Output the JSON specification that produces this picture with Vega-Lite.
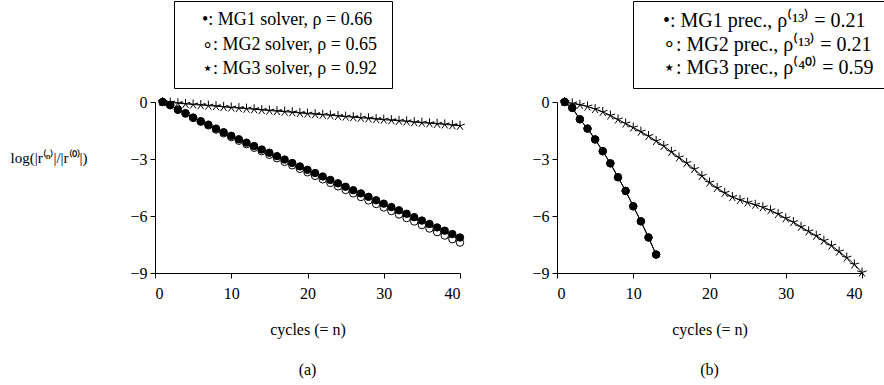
{
  "$schema": "https://vega.github.io/schema/vega-lite/v6.json",
  "padding": {"left": 10, "top": 0, "right": 0, "bottom": 2},
  "background": "white",
  "spacing": 64,
  "config": {
    "view": {"stroke": null},
    "font": "Liberation Serif",
    "axis": {
      "grid": false,
      "domainColor": "black",
      "tickColor": "black",
      "labelColor": "black",
      "titleColor": "black",
      "labelFont": "Liberation Serif",
      "titleFont": "Liberation Serif",
      "labelFontSize": 16,
      "titleFontSize": 16,
      "titleFontWeight": "normal",
      "domainWidth": 1,
      "tickWidth": 1
    },
    "legend": {
      "labelFont": "Liberation Serif",
      "labelFontSize": 18,
      "labelColor": "black",
      "strokeColor": "black",
      "fillColor": "white",
      "padding": 10,
      "rowPadding": 6.5,
      "symbolSize": 0,
      "symbolOpacity": 0,
      "symbolStrokeWidth": 0,
      "labelOffset": 0,
      "cornerRadius": 0,
      "labelLimit": 400
    },
    "title": {"font": "Liberation Serif", "fontSize": 16, "fontWeight": "normal", "color": "black"}
  },
  "datasets": {
    "left": [
      {"n": 1, "v": 0, "s": "MG2"}, {"n": 2, "v": -0.17, "s": "MG2"}, {"n": 3, "v": -0.41, "s": "MG2"}, {"n": 4, "v": -0.61, "s": "MG2"}, {"n": 5, "v": -0.84, "s": "MG2"},
      {"n": 6, "v": -1.04, "s": "MG2"}, {"n": 7, "v": -1.23, "s": "MG2"}, {"n": 8, "v": -1.45, "s": "MG2"}, {"n": 9, "v": -1.65, "s": "MG2"}, {"n": 10, "v": -1.85, "s": "MG2"},
      {"n": 11, "v": -2.04, "s": "MG2"}, {"n": 12, "v": -2.22, "s": "MG2"}, {"n": 13, "v": -2.41, "s": "MG2"}, {"n": 14, "v": -2.59, "s": "MG2"}, {"n": 15, "v": -2.78, "s": "MG2"},
      {"n": 16, "v": -2.96, "s": "MG2"}, {"n": 17, "v": -3.15, "s": "MG2"}, {"n": 18, "v": -3.33, "s": "MG2"}, {"n": 19, "v": -3.52, "s": "MG2"}, {"n": 20, "v": -3.70, "s": "MG2"},
      {"n": 21, "v": -3.89, "s": "MG2"}, {"n": 22, "v": -4.07, "s": "MG2"}, {"n": 23, "v": -4.26, "s": "MG2"}, {"n": 24, "v": -4.44, "s": "MG2"}, {"n": 25, "v": -4.63, "s": "MG2"},
      {"n": 26, "v": -4.81, "s": "MG2"}, {"n": 27, "v": -5.00, "s": "MG2"}, {"n": 28, "v": -5.18, "s": "MG2"}, {"n": 29, "v": -5.37, "s": "MG2"}, {"n": 30, "v": -5.55, "s": "MG2"},
      {"n": 31, "v": -5.74, "s": "MG2"}, {"n": 32, "v": -5.92, "s": "MG2"}, {"n": 33, "v": -6.11, "s": "MG2"}, {"n": 34, "v": -6.29, "s": "MG2"}, {"n": 35, "v": -6.48, "s": "MG2"},
      {"n": 36, "v": -6.66, "s": "MG2"}, {"n": 37, "v": -6.85, "s": "MG2"}, {"n": 38, "v": -7.03, "s": "MG2"}, {"n": 39, "v": -7.22, "s": "MG2"}, {"n": 40, "v": -7.40, "s": "MG2"},
      {"n": 1, "v": 0, "s": "MG1"}, {"n": 2, "v": -0.16, "s": "MG1"}, {"n": 3, "v": -0.40, "s": "MG1"}, {"n": 4, "v": -0.59, "s": "MG1"}, {"n": 5, "v": -0.82, "s": "MG1"},
      {"n": 6, "v": -1.01, "s": "MG1"}, {"n": 7, "v": -1.19, "s": "MG1"}, {"n": 8, "v": -1.40, "s": "MG1"}, {"n": 9, "v": -1.59, "s": "MG1"}, {"n": 10, "v": -1.78, "s": "MG1"},
      {"n": 11, "v": -1.96, "s": "MG1"}, {"n": 12, "v": -2.14, "s": "MG1"}, {"n": 13, "v": -2.32, "s": "MG1"}, {"n": 14, "v": -2.50, "s": "MG1"}, {"n": 15, "v": -2.67, "s": "MG1"},
      {"n": 16, "v": -2.85, "s": "MG1"}, {"n": 17, "v": -3.03, "s": "MG1"}, {"n": 18, "v": -3.21, "s": "MG1"}, {"n": 19, "v": -3.39, "s": "MG1"}, {"n": 20, "v": -3.57, "s": "MG1"},
      {"n": 21, "v": -3.74, "s": "MG1"}, {"n": 22, "v": -3.92, "s": "MG1"}, {"n": 23, "v": -4.10, "s": "MG1"}, {"n": 24, "v": -4.28, "s": "MG1"}, {"n": 25, "v": -4.46, "s": "MG1"},
      {"n": 26, "v": -4.64, "s": "MG1"}, {"n": 27, "v": -4.81, "s": "MG1"}, {"n": 28, "v": -4.99, "s": "MG1"}, {"n": 29, "v": -5.17, "s": "MG1"}, {"n": 30, "v": -5.35, "s": "MG1"},
      {"n": 31, "v": -5.53, "s": "MG1"}, {"n": 32, "v": -5.70, "s": "MG1"}, {"n": 33, "v": -5.88, "s": "MG1"}, {"n": 34, "v": -6.06, "s": "MG1"}, {"n": 35, "v": -6.24, "s": "MG1"},
      {"n": 36, "v": -6.42, "s": "MG1"}, {"n": 37, "v": -6.60, "s": "MG1"}, {"n": 38, "v": -6.77, "s": "MG1"}, {"n": 39, "v": -6.95, "s": "MG1"}, {"n": 40, "v": -7.13, "s": "MG1"},
      {"n": 1, "v": 0, "s": "MG3"}, {"n": 2, "v": -0.03, "s": "MG3"}, {"n": 3, "v": -0.06, "s": "MG3"}, {"n": 4, "v": -0.10, "s": "MG3"}, {"n": 5, "v": -0.13, "s": "MG3"},
      {"n": 6, "v": -0.16, "s": "MG3"}, {"n": 7, "v": -0.19, "s": "MG3"}, {"n": 8, "v": -0.22, "s": "MG3"}, {"n": 9, "v": -0.26, "s": "MG3"}, {"n": 10, "v": -0.29, "s": "MG3"},
      {"n": 11, "v": -0.32, "s": "MG3"}, {"n": 12, "v": -0.35, "s": "MG3"}, {"n": 13, "v": -0.38, "s": "MG3"}, {"n": 14, "v": -0.42, "s": "MG3"}, {"n": 15, "v": -0.45, "s": "MG3"},
      {"n": 16, "v": -0.48, "s": "MG3"}, {"n": 17, "v": -0.51, "s": "MG3"}, {"n": 18, "v": -0.54, "s": "MG3"}, {"n": 19, "v": -0.58, "s": "MG3"}, {"n": 20, "v": -0.61, "s": "MG3"},
      {"n": 21, "v": -0.64, "s": "MG3"}, {"n": 22, "v": -0.67, "s": "MG3"}, {"n": 23, "v": -0.70, "s": "MG3"}, {"n": 24, "v": -0.74, "s": "MG3"}, {"n": 25, "v": -0.77, "s": "MG3"},
      {"n": 26, "v": -0.80, "s": "MG3"}, {"n": 27, "v": -0.83, "s": "MG3"}, {"n": 28, "v": -0.86, "s": "MG3"}, {"n": 29, "v": -0.90, "s": "MG3"}, {"n": 30, "v": -0.93, "s": "MG3"},
      {"n": 31, "v": -0.96, "s": "MG3"}, {"n": 32, "v": -0.99, "s": "MG3"}, {"n": 33, "v": -1.02, "s": "MG3"}, {"n": 34, "v": -1.06, "s": "MG3"}, {"n": 35, "v": -1.09, "s": "MG3"},
      {"n": 36, "v": -1.12, "s": "MG3"}, {"n": 37, "v": -1.15, "s": "MG3"}, {"n": 38, "v": -1.18, "s": "MG3"}, {"n": 39, "v": -1.22, "s": "MG3"}, {"n": 40, "v": -1.25, "s": "MG3"}
    ],
    "right": [
      {"n": 1, "v": 0, "s": "MG2"}, {"n": 2, "v": -0.31, "s": "MG2"}, {"n": 3, "v": -0.91, "s": "MG2"}, {"n": 4, "v": -1.40, "s": "MG2"}, {"n": 5, "v": -1.97, "s": "MG2"},
      {"n": 6, "v": -2.59, "s": "MG2"}, {"n": 7, "v": -3.23, "s": "MG2"}, {"n": 8, "v": -3.96, "s": "MG2"}, {"n": 9, "v": -4.68, "s": "MG2"}, {"n": 10, "v": -5.49, "s": "MG2"},
      {"n": 11, "v": -6.28, "s": "MG2"}, {"n": 12, "v": -7.13, "s": "MG2"}, {"n": 13, "v": -8.03, "s": "MG2"},
      {"n": 1, "v": 0, "s": "MG1"}, {"n": 2, "v": -0.31, "s": "MG1"}, {"n": 3, "v": -0.91, "s": "MG1"}, {"n": 4, "v": -1.40, "s": "MG1"}, {"n": 5, "v": -1.97, "s": "MG1"},
      {"n": 6, "v": -2.59, "s": "MG1"}, {"n": 7, "v": -3.23, "s": "MG1"}, {"n": 8, "v": -3.96, "s": "MG1"}, {"n": 9, "v": -4.68, "s": "MG1"}, {"n": 10, "v": -5.49, "s": "MG1"},
      {"n": 11, "v": -6.28, "s": "MG1"}, {"n": 12, "v": -7.13, "s": "MG1"}, {"n": 13, "v": -8.03, "s": "MG1"},
      {"n": 1, "v": 0, "s": "MG3"}, {"n": 2, "v": -0.08, "s": "MG3"}, {"n": 3, "v": -0.15, "s": "MG3"}, {"n": 4, "v": -0.24, "s": "MG3"}, {"n": 5, "v": -0.37, "s": "MG3"},
      {"n": 6, "v": -0.52, "s": "MG3"}, {"n": 7, "v": -0.71, "s": "MG3"}, {"n": 8, "v": -0.92, "s": "MG3"}, {"n": 9, "v": -1.13, "s": "MG3"}, {"n": 10, "v": -1.34, "s": "MG3"},
      {"n": 11, "v": -1.56, "s": "MG3"}, {"n": 12, "v": -1.79, "s": "MG3"}, {"n": 13, "v": -2.05, "s": "MG3"}, {"n": 14, "v": -2.31, "s": "MG3"}, {"n": 15, "v": -2.62, "s": "MG3"},
      {"n": 16, "v": -2.92, "s": "MG3"}, {"n": 17, "v": -3.21, "s": "MG3"}, {"n": 18, "v": -3.53, "s": "MG3"}, {"n": 19, "v": -3.89, "s": "MG3"}, {"n": 20, "v": -4.24, "s": "MG3"},
      {"n": 21, "v": -4.52, "s": "MG3"}, {"n": 22, "v": -4.78, "s": "MG3"}, {"n": 23, "v": -5.00, "s": "MG3"}, {"n": 24, "v": -5.15, "s": "MG3"}, {"n": 25, "v": -5.29, "s": "MG3"},
      {"n": 26, "v": -5.41, "s": "MG3"}, {"n": 27, "v": -5.54, "s": "MG3"}, {"n": 28, "v": -5.70, "s": "MG3"}, {"n": 29, "v": -5.89, "s": "MG3"}, {"n": 30, "v": -6.12, "s": "MG3"},
      {"n": 31, "v": -6.32, "s": "MG3"}, {"n": 32, "v": -6.57, "s": "MG3"}, {"n": 33, "v": -6.81, "s": "MG3"}, {"n": 34, "v": -7.04, "s": "MG3"}, {"n": 35, "v": -7.30, "s": "MG3"},
      {"n": 36, "v": -7.56, "s": "MG3"}, {"n": 37, "v": -7.87, "s": "MG3"}, {"n": 38, "v": -8.19, "s": "MG3"}, {"n": 39, "v": -8.55, "s": "MG3"}, {"n": 40, "v": -8.97, "s": "MG3"}
    ]
  },
  "hconcat": [
    {
      "width": 305,
      "height": 171,
      "data": {"name": "left"},
      "title": {"text": "(a)", "orient": "bottom", "offset": 25, "anchor": "middle"},
      "layer": [
        {
          "mark": {"type": "line", "color": "black", "strokeWidth": 1},
          "encoding": {
            "x": {"field": "n", "type": "quantitative", "scale": {"domain": [0, 40], "nice": false},
                  "axis": {"title": "cycles (= n)", "values": [0, 10, 20, 30, 40], "tickSize": 5, "labelPadding": 7, "titlePadding": 20,
                           "encode": {"ticks": {"update": {"y2": {"value": -5}}}}}},
            "y": {"field": "v", "type": "quantitative", "scale": {"domain": [-9, 0], "nice": false, "zero": false},
                  "axis": {"title": "log(|r⁽ⁿ⁾|/|r⁽⁰⁾|)", "values": [0, -3, -6, -9], "tickSize": 5, "labelPadding": 3,
                           "titleFontSize": 15, "titleAngle": 0, "titleAlign": "left", "titleBaseline": "middle", "titleX": -145, "titleY": 55}},
            "detail": {"field": "s"}
          }
        },
        {
          "mark": {"type": "point", "opacity": 1, "strokeWidth": 1, "size": 55},
          "encoding": {
            "x": {"field": "n", "type": "quantitative"},
            "y": {"field": "v", "type": "quantitative"},
            "shape": {"field": "s", "type": "nominal",
                      "scale": {"domain": ["MG1", "MG2", "MG3"], "range": ["circle", "circle", "M0,-1.35L0,0M1.284,-0.417L0,0M0.794,1.092L0,0M-0.794,1.092L0,0M-1.284,-0.417L0,0"]},
                      "legend": {"title": null, "orient": "none", "legendX": 19, "legendY": -101,
                                 "labelExpr": "datum.value == 'MG1' ? '•:  MG1 solver, ρ = 0.66' : datum.value == 'MG2' ? '∘:  MG2 solver, ρ = 0.65' : '⋆:  MG3 solver, ρ = 0.92'"}},
            "fill": {"field": "s", "type": "nominal", "scale": {"domain": ["MG1", "MG2", "MG3"], "range": ["black", "white", "transparent"]}, "legend": null},
            "stroke": {"value": "black"}
          }
        }
      ]
    },
    {
      "width": 305,
      "height": 171,
      "data": {"name": "right"},
      "title": {"text": "(b)", "orient": "bottom", "offset": 25, "anchor": "middle"},
      "layer": [
        {
          "mark": {"type": "line", "color": "black", "strokeWidth": 1},
          "encoding": {
            "x": {"field": "n", "type": "quantitative", "scale": {"domain": [0, 40], "nice": false},
                  "axis": {"title": "cycles (= n)", "values": [0, 10, 20, 30, 40], "tickSize": 5, "labelPadding": 7, "titlePadding": 20,
                           "encode": {"ticks": {"update": {"y2": {"value": -5}}}}}},
            "y": {"field": "v", "type": "quantitative", "scale": {"domain": [-9, 0], "nice": false, "zero": false},
                  "axis": {"title": null, "values": [0, -3, -6, -9], "tickSize": 5, "labelPadding": 3}},
            "detail": {"field": "s"}
          }
        },
        {
          "mark": {"type": "point", "opacity": 1, "strokeWidth": 1, "size": 55},
          "encoding": {
            "x": {"field": "n", "type": "quantitative"},
            "y": {"field": "v", "type": "quantitative"},
            "shape": {"field": "s", "type": "nominal",
                      "scale": {"domain": ["MG1", "MG2", "MG3"], "range": ["circle", "circle", "M0,-1.35L0,0M1.284,-0.417L0,0M0.794,1.092L0,0M-0.794,1.092L0,0M-1.284,-0.417L0,0"]},
                      "legend": {"title": null, "orient": "none", "legendX": 76, "legendY": -101, "labelFontSize": 20, "rowPadding": 3.5,
                                 "labelExpr": "datum.value == 'MG1' ? '•:  MG1 prec., ρ⁽¹³⁾ = 0.21' : datum.value == 'MG2' ? '∘:  MG2 prec., ρ⁽¹³⁾ = 0.21' : '⋆:  MG3 prec., ρ⁽⁴⁰⁾ = 0.59'"}},
            "fill": {"field": "s", "type": "nominal", "scale": {"domain": ["MG1", "MG2", "MG3"], "range": ["black", "white", "transparent"]}, "legend": null},
            "stroke": {"value": "black"}
          }
        }
      ]
    }
  ],
  "resolve": {"scale": {"shape": "independent", "fill": "independent"}, "legend": {"shape": "independent"}}
}
